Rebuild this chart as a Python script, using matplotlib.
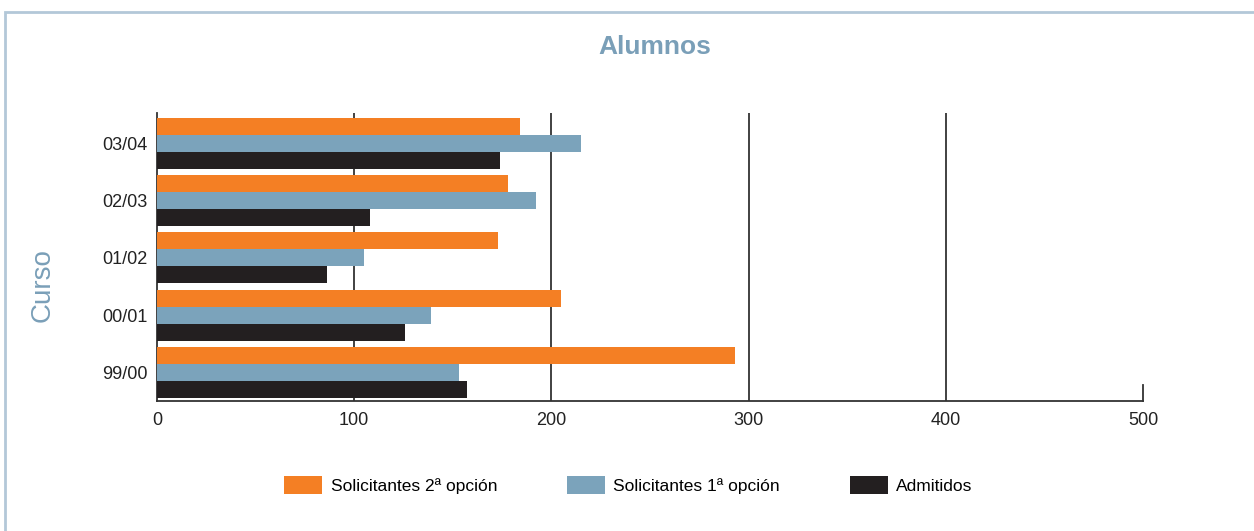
import numpy as np
import matplotlib
matplotlib.use("Agg")
import matplotlib.pyplot as plt
from matplotlib.patches import Rectangle

plt.rcParams['font.family'] = ['Liberation Sans', 'DejaVu Sans']

# datos
cursos = ['99/00', '00/01', '01/02', '02/03', '03/04']
sol_2 = [293, 205, 173, 178, 184]
sol_1 = [153, 139, 105, 192, 215]
admitidos = [157, 126, 86, 108, 174]
series_names = ['Solicitantes 2ª opción', 'Solicitantes 1ª opción', 'Admitidos']
colores = ['#f47f24', '#7ba3bb', '#231f20']
xticks = [0, 100, 200, 300, 400, 500]

fig = plt.figure(figsize=(12.54, 5.31), dpi=100)
ax = fig.add_axes([0.1252, 0.2448, 0.7863, 0.5424])

# marco exterior
fig.patches.append(Rectangle((0.004, -0.01), 1.2, 0.988, transform=fig.transFigure,
                             fill=False, edgecolor='#b3c8d8', lw=2))

y = np.arange(len(cursos))
h = 0.297
for i, (vals, col, name) in enumerate(zip([sol_2, sol_1, admitidos], colores, series_names)):
    ax.barh(y + (1 - i) * h, vals, height=h, color=col, label=name, zorder=3)

for xv in xticks[1:-1]:
    ax.axvline(xv, color='#333333', lw=1.3, zorder=1)
ax.axvline(500, ymin=0, ymax=0.055, color='#333333', lw=1.3, clip_on=False)

ax.set_xlim(0, 500)
ax.set_ylim(-0.50, 4.53)
ax.set_xticks(xticks)
ax.set_yticks(y)
ax.set_yticklabels(cursos)
ax.tick_params(axis='both', length=0, labelsize=13, colors='#222222', pad=7)
ax.tick_params(axis='x', pad=8)
for s in ['top', 'right']:
    ax.spines[s].set_visible(False)
for s in ['left', 'bottom']:
    ax.spines[s].set_color('#333333')
    ax.spines[s].set_linewidth(1.3)

fig.text(0.522, 0.912, 'Alumnos', ha='center', va='center', fontsize=19,
         color='#7a9fb8', fontweight='bold')
fig.text(0.034, 0.463, 'Curso', ha='center', va='center', fontsize=20,
         color='#7a9fb8', rotation=90)

fig.legend(loc='center', bbox_to_anchor=(0.501, 0.0866), ncol=3, frameon=False,
           fontsize=12.5, handlelength=2.2, handleheight=1.2, handletextpad=0.5,
           columnspacing=4.0)

fig.savefig('out.png', dpi=100)
